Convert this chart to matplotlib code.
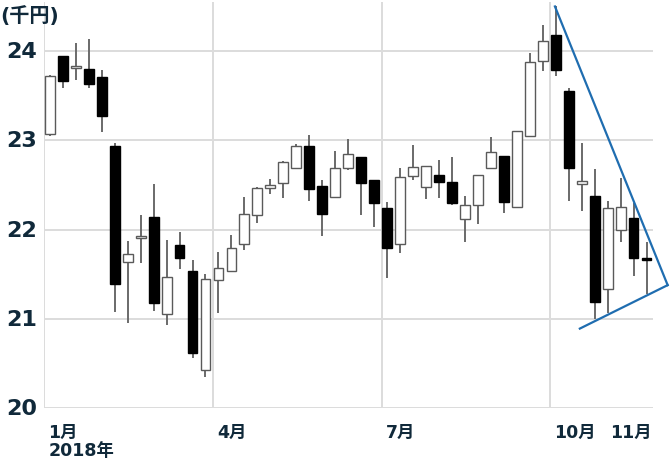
import matplotlib
matplotlib.use("Agg")
import matplotlib.pyplot as plt
from matplotlib.patches import Rectangle

plt.rcParams['font.family'] = ['DejaVu Sans', 'Noto Sans CJK JP']

# Weekly OHLC (thousand yen), 2018
opens = [23.07, 23.95, 23.81, 23.80, 23.71, 22.94, 21.64, 21.90, 22.14, 21.05, 21.83, 21.54,
         20.43, 21.44, 21.54, 21.84, 22.16, 22.47, 22.52, 22.69, 22.94, 22.49, 22.37, 22.69,
         22.81, 22.55, 22.24, 21.84, 22.60, 22.48, 22.61, 22.53, 22.12, 22.27, 22.69, 22.82,
         22.25, 23.05, 23.89, 24.18, 23.55, 22.51, 22.38, 21.33, 22.00, 22.13, 21.68]
closes = [23.72, 23.66, 23.81, 23.63, 23.27, 21.39, 21.73, 21.90, 21.18, 21.47, 21.68, 20.62,
          21.45, 21.57, 21.79, 22.17, 22.47, 22.47, 22.76, 22.94, 22.45, 22.17, 22.69, 22.85,
          22.52, 22.30, 21.79, 22.59, 22.70, 22.71, 22.53, 22.30, 22.27, 22.61, 22.87, 22.31,
          23.10, 23.88, 24.11, 23.79, 22.69, 22.54, 21.19, 22.24, 22.25, 21.68, 21.66]
highs = [23.73, 23.95, 24.09, 24.13, 23.79, 22.97, 21.87, 22.16, 22.51, 21.88, 21.97, 21.66,
         21.50, 21.75, 21.94, 22.37, 22.48, 22.57, 22.77, 22.96, 23.06, 22.55, 22.88, 23.02,
         22.81, 22.55, 22.31, 22.69, 22.95, 22.71, 22.78, 22.81, 22.38, 22.61, 23.04, 22.82,
         23.10, 23.98, 24.29, 24.50, 23.59, 22.97, 22.68, 22.32, 22.58, 22.30, 21.86]
lows = [23.05, 23.59, 23.68, 23.59, 23.09, 21.08, 20.95, 21.63, 21.09, 20.93, 21.56, 20.56,
        20.35, 21.06, 21.53, 21.77, 22.07, 22.40, 22.35, 22.68, 22.32, 21.93, 22.36, 22.67,
        22.16, 22.03, 21.46, 21.74, 22.55, 22.34, 22.35, 22.27, 21.86, 22.06, 22.68, 22.18,
        22.25, 23.05, 23.78, 23.72, 22.32, 22.21, 21.00, 21.07, 21.86, 21.48, 21.28]

month_labels = ["1月\n2018年", "4月", "7月", "10月", "11月"]
month_pos = [-0.43, 12.57, 25.57, 38.57, 42.9]
grid_x = [-0.43, 12.57, 25.57, 38.57]
y_ticks = [20, 21, 22, 23, 24]

# trend lines (triangle)
upper_line_x = [38.94, 47.63]
upper_line_y = [24.50, 21.377]
lower_line_x = [40.86, 47.63]
lower_line_y = [20.89, 21.377]

fig = plt.figure(figsize=(6.7, 4.64), dpi=100)
ax = fig.add_axes([44/670, 55/464, 609/670, 406/464])
ax.set_xlim(-0.45, 46.5)
ax.set_ylim(20, 24.55)

grid_c = '#dcdcdc'
for y in y_ticks:
    ax.axhline(y, color=grid_c, lw=1.4, zorder=0)
for x in grid_x:
    ax.axvline(x, color=grid_c, lw=1.4, zorder=0)

w = 0.76
for i, (o, c, h, l) in enumerate(zip(opens, closes, highs, lows)):
    up = c >= o
    ax.plot([i, i], [l, h], color='#6a6a6a', lw=1.4, zorder=2, solid_capstyle='butt')
    bottom = min(o, c)
    height = max(abs(c - o), 0.025)
    if up:
        rect = Rectangle((i - w/2, bottom), w, height, facecolor='white',
                         edgecolor='#5a5a5a', lw=1.0, zorder=3)
    else:
        rect = Rectangle((i - w/2, bottom), w, height, facecolor='black',
                         edgecolor='black', lw=1.0, zorder=3)
    ax.add_patch(rect)

line_c = '#1f6db0'
ax.plot(upper_line_x, upper_line_y, color=line_c, lw=1.6, clip_on=False, zorder=5)
ax.plot(lower_line_x, lower_line_y, color=line_c, lw=1.6, clip_on=False, zorder=5)

for s in ax.spines.values():
    s.set_visible(False)
ax.set_xticks([])
ax.set_yticks([])

txt_c = '#10293a'
for y in y_ticks:
    ax.text(-1.0, y, str(y), ha='right', va='center', fontsize=16,
            fontweight='bold', color=txt_c, transform=ax.transData, clip_on=False)

for lab, x in zip(month_labels, month_pos):
    ax.text(x + 0.3, 19.83, lab, ha='left', va='top', fontsize=12.5,
            fontweight='bold', color=txt_c, linespacing=1.0, clip_on=False)

fig.text(0.0, 1 - 16/464, "(千円)", ha='left', va='center', fontsize=14.5,
         fontweight='bold', color=txt_c)

fig.savefig("out.png", dpi=100, facecolor='white')
